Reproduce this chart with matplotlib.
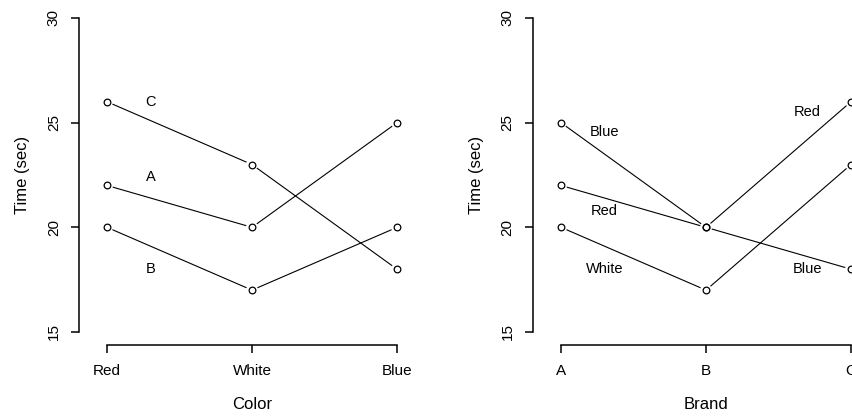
import numpy as np
import matplotlib
matplotlib.use("Agg")
import matplotlib.pyplot as plt

plt.rcParams['font.family'] = ['Liberation Sans', 'DejaVu Sans']

colors = ["Red", "White", "Blue"]
brands = ["A", "B", "C"]

# time (sec) per brand, across colors Red / White / Blue
time_by_brand = {
    "C": [26, 23, 18],
    "A": [22, 20, 25],
    "B": [20, 17, 20],
}
# time (sec) per color, across brands A / B / C
time_by_color = {
    "Blue": [25, 20, 18],
    "Red": [22, 20, 26],
    "White": [20, 17, 23],
}

# text labels: (x position, y position)
brand_labels = {"C": (1.3, 26), "A": (1.3, 22.4), "B": (1.3, 18)}
color_labels = {"Blue": (1.3, 24.55), "Red": (1.3, 20.8), "White": (1.3, 18),
                "Red2": (2.7, 25.5), "Blue2": (2.7, 18)}

W, H = 852, 416
fig = plt.figure(figsize=(W / 100, H / 100), dpi=100)


def gapped_line(ax, xs, ys, gap_px=6.5):
    # R's type="b": segments stop short of the points
    trans = ax.transData
    inv = trans.inverted()
    pts = trans.transform(np.column_stack([xs, ys]))
    for p0, p1 in zip(pts[:-1], pts[1:]):
        d = p1 - p0
        n = np.hypot(*d)
        u = d / n
        a = inv.transform(p0 + u * gap_px)
        b = inv.transform(p1 - u * gap_px)
        ax.plot([a[0], b[0]], [a[1], b[1]], color="black", lw=0.8,
                clip_on=False)
    ax.plot(xs, ys, "o", ms=4.8, mfc="none", mec="black", mew=0.9,
            clip_on=False)


def setup(ax, ticklabels, xlabel):
    ax.set_xlim(1, 3)
    ax.set_ylim(15, 30)
    for s in ["top", "right"]:
        ax.spines[s].set_visible(False)
    ax.spines["left"].set_position(("outward", 20))
    ax.spines["bottom"].set_position(("outward", 9.4))
    ax.spines["left"].set_linewidth(1.1)
    ax.spines["bottom"].set_linewidth(1.1)
    ax.spines["left"].set_bounds(15, 30)
    ax.spines["bottom"].set_bounds(1, 3)
    ax.set_xticks([1, 2, 3])
    ax.set_xticklabels(ticklabels)
    ax.set_yticks([15, 20, 25, 30])
    ax.set_yticklabels(["15", "20", "25", "30"], rotation=90, va="center")
    ax.tick_params(axis="x", direction="out", length=5.8, width=1.1,
                   pad=7.5, labelsize=11)
    ax.tick_params(axis="y", direction="out", length=5.8, width=1.1,
                   pad=7.5, labelsize=11)
    ax.set_xlabel(xlabel, fontsize=12, labelpad=14)
    ax.set_ylabel("Time (sec)", fontsize=12, labelpad=12)


bottom = (H - 332) / H
height = (332 - 18) / H

ax1 = fig.add_axes([107 / W, bottom, (397 - 107) / W, height])
setup(ax1, colors, "Color")
x = np.arange(1, 4)
for name, vals in time_by_brand.items():
    gapped_line(ax1, x, vals)
for name, (lx, ly) in brand_labels.items():
    ax1.text(lx, ly, name, ha="center", va="center", fontsize=10.5)

ax2 = fig.add_axes([561 / W, bottom, (851 - 561) / W, height])
setup(ax2, brands, "Brand")
for name, vals in time_by_color.items():
    gapped_line(ax2, x, vals)
for name, (lx, ly) in color_labels.items():
    ax2.text(lx, ly, name.rstrip("2"), ha="center", va="center", fontsize=10.5)

fig.savefig("out.png", dpi=100)
